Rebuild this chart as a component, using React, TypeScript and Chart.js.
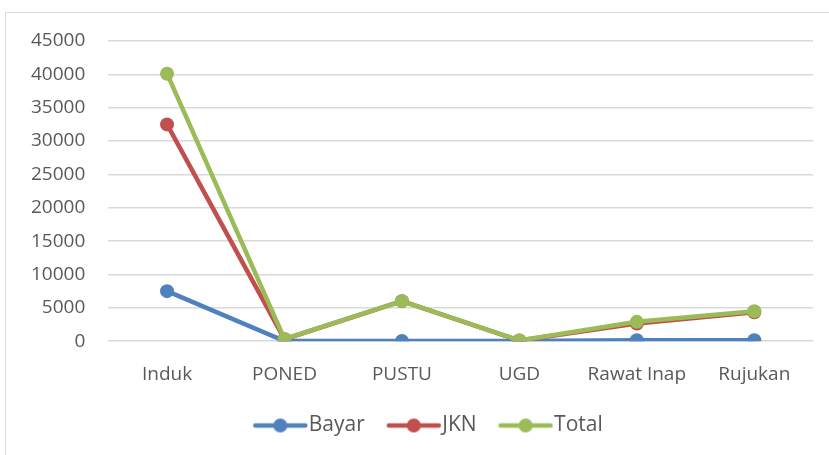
import React, { useEffect, useRef } from "react";
import { Chart, registerables } from "chart.js";

Chart.register(...registerables);

const categories = ["Induk", "PONED", "PUSTU", "UGD", "Rawat Inap", "Rujukan"];
const bayar = [7500, 30, 20, 20, 150, 150];
const jkn = [32500, 300, 6000, 100, 2650, 4350];
const total = [40100, 330, 6000, 120, 2900, 4500];
const yTicks = [0, 5000, 10000, 15000, 20000, 25000, 30000, 35000, 40000, 45000];

const seriesNames = ["Bayar", "JKN", "Total"];
const seriesColors = ["#4F81BD", "#C0504D", "#9BBB59"];

const FONT = "'Open Sans', sans-serif";

function legendIcon(color: string): HTMLCanvasElement {
  const c = document.createElement("canvas");
  c.width = 80;
  c.height = 16;
  const ctx = c.getContext("2d")!;
  ctx.strokeStyle = color;
  ctx.lineWidth = 4.5;
  ctx.lineCap = "round";
  ctx.beginPath();
  ctx.moveTo(25, 8);
  ctx.lineTo(75, 8);
  ctx.stroke();
  ctx.fillStyle = color;
  ctx.beginPath();
  ctx.arc(50, 8, 7, 0, Math.PI * 2);
  ctx.fill();
  return c;
}

const legendShift = {
  id: "legendShift",
  afterLayout(chart: any) {
    const lg = chart.legend;
    if (lg) {
      lg.left += 12;
      lg.right += 12;
    }
  },
};

export default function App() {
  const ref = useRef<HTMLCanvasElement | null>(null);

  useEffect(() => {
    if (!ref.current) return;
    const values = [bayar, jkn, total];
    const icons = seriesColors.map(legendIcon);
    const chart = new Chart(ref.current, {
      type: "line",
      data: {
        labels: categories,
        datasets: values.map((v, i) => ({
          label: seriesNames[i],
          data: v,
          borderColor: seriesColors[i],
          backgroundColor: seriesColors[i],
          borderWidth: 4.5,
          pointRadius: 7,
          pointHoverRadius: 7,
          pointBorderWidth: 0,
          tension: 0,
          order: 2 - i,
        })),
      },
      plugins: [legendShift],
      options: {
        animation: false,
        responsive: false,
        layout: { padding: { left: 8, right: 16, top: 41, bottom: 9 } },
        plugins: {
          tooltip: { enabled: false },
          legend: {
            position: "bottom",
            labels: {
              usePointStyle: true,
              pointStyleWidth: 56,
              boxHeight: 16,
              padding: 11,
              color: "#595959",
              font: { family: FONT, size: 21 },
              generateLabels: () =>
                seriesNames.map((n, i) => ({
                  text: n,
                  fillStyle: seriesColors[i],
                  strokeStyle: seriesColors[i],
                  pointStyle: icons[i],
                  lineWidth: 0,
                  datasetIndex: i,
                  fontColor: "#595959",
                })),
            },
          },
        },
        scales: {
          x: {
            offset: true,
            grid: { display: false },
            border: { display: false },
            afterFit: (axis: any) => {
              axis.height = axis.height + 4;
            },
            ticks: {
              color: "#595959",
              font: { family: FONT, size: 19 },
              padding: 14,
              maxRotation: 0,
            },
          },
          y: {
            min: 0,
            max: 45000,
            afterBuildTicks: (axis: any) => {
              axis.ticks = yTicks.map((v) => ({ value: v }));
            },
            grid: { color: "#D9D9D9", lineWidth: 1.5, drawTicks: false },
            border: { display: false },
            ticks: {
              color: "#595959",
              font: { family: FONT, size: 19 },
              padding: 23,
              callback: (v: any) => String(v),
            },
          },
        },
      },
    });
    return () => chart.destroy();
  }, []);

  return (
    <div style={{ position: "fixed", left: 0, top: 0, width: 829, height: 455, overflow: "hidden", background: "#fff" }}>
      <div style={{ position: "absolute", left: 5, top: 12, width: 900, height: 600, border: "1px solid #D9D9D9" }} />
      <canvas ref={ref} width={829} height={455} style={{ position: "absolute", left: 0, top: 0 }} />
    </div>
  );
}
